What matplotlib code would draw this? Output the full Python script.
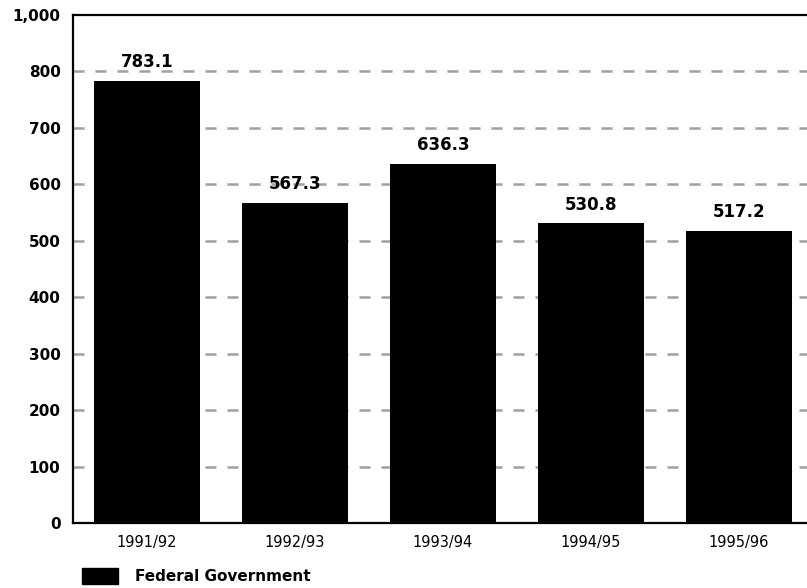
import matplotlib.pyplot as plt
from matplotlib.patches import Patch

years = ["1991/92", "1992/93", "1993/94", "1994/95", "1995/96"]
federal = [783.1, 567.3, 636.3, 530.8, 517.2]
ytick_values = [0, 100, 200, 300, 400, 500, 600, 700, 800, 900]
ytick_labels = ["0", "100", "200", "300", "400", "500", "600", "700", "800", "1,000"]

fig = plt.figure(figsize=(8.07, 5.88), dpi=100)
ax = fig.add_axes([73 / 807, 65 / 588, 740 / 807, 508 / 588])

xs = list(range(len(years)))
ax.bar(xs, federal, width=0.72, color="black", zorder=3)

# value labels above each bar
for xi, v in zip(xs, federal):
    ax.annotate(f"{v:.1f}", (xi, v), xytext=(0, 7), textcoords="offset points",
                ha="center", va="bottom", fontsize=12, fontweight="bold")

# dashed grid behind the bars
for yv in ytick_values[1:-1]:
    ax.axhline(yv, color="#a0a0a0", linewidth=1.8, dashes=(4.4, 4.4), zorder=1)

ax.set_xlim(-0.5, 4.5)
ax.set_ylim(0, 900)
ax.set_yticks(ytick_values)
ax.set_yticklabels(ytick_labels, fontsize=11, fontweight="bold")
ax.set_xticks(xs)
ax.set_xticklabels(years, fontsize=10.5)
ax.tick_params(axis="both", length=0)
ax.tick_params(axis="y", pad=9)
ax.tick_params(axis="x", pad=9)

for side in ["left", "bottom", "top"]:
    ax.spines[side].set_linewidth(1.6)
ax.spines["right"].set_visible(False)

handle = Patch(facecolor="black", edgecolor="black")
fig.legend([handle], ["Federal Government"], loc="lower left",
           bbox_to_anchor=(68 / 807, -10 / 588), frameon=False,
           handlelength=2.4, handleheight=1.3, handletextpad=1.1,
           prop={"size": 11, "weight": "bold"})

fig.savefig("out.png", dpi=100)
